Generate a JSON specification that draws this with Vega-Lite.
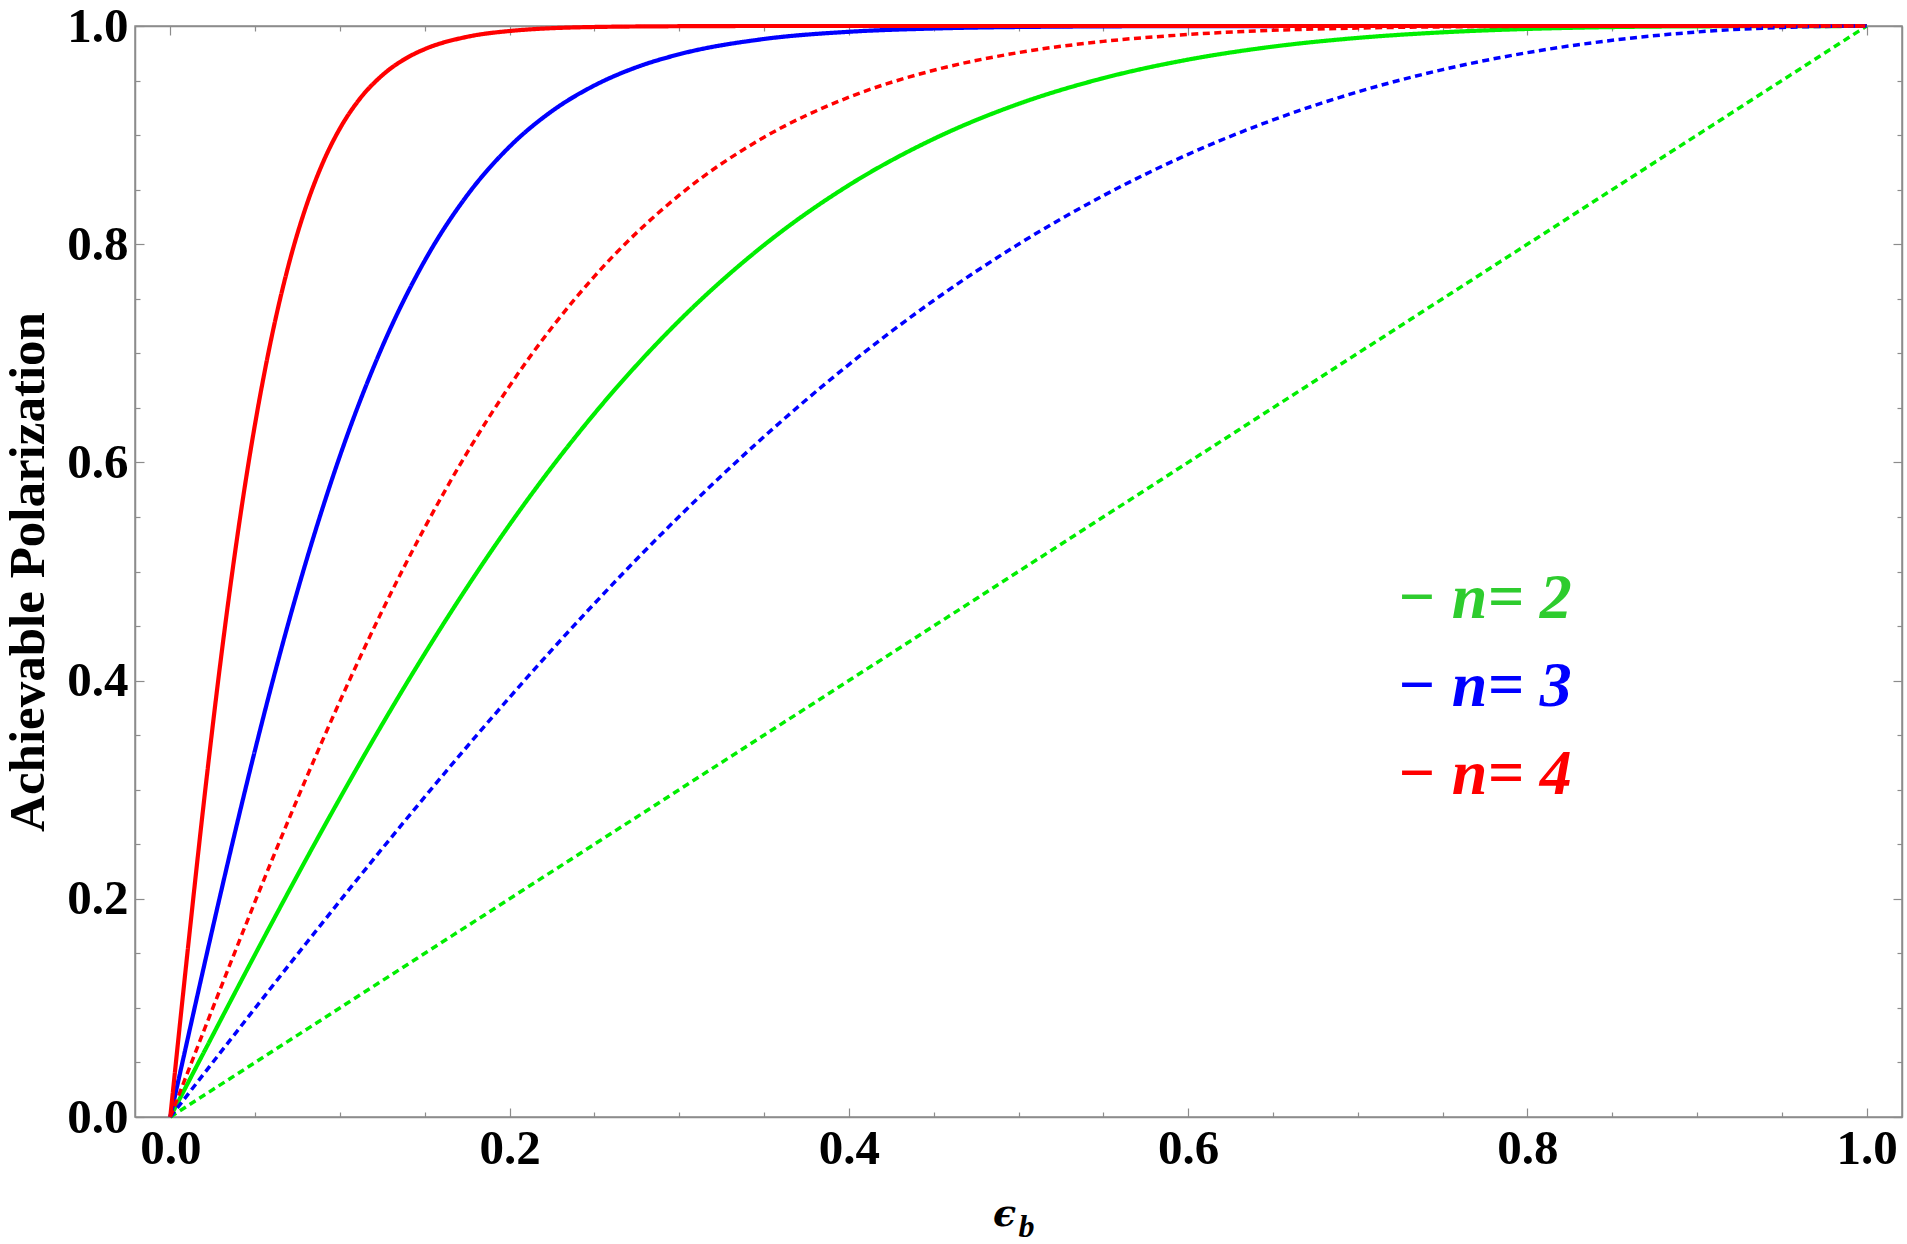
{
  "$schema": "https://vega.github.io/schema/vega-lite/v6.json",
  "width": 1767,
  "height": 1091,
  "autosize": {"type": "none"},
  "padding": {"left": 135, "top": 26, "right": 5, "bottom": 127},
  "background": "white",
  "config": {
    "view": {"stroke": "#8c8c8c", "strokeWidth": 1.5},
    "font": "Liberation Serif"
  },
  "data": {
    "values": [
      {"x": 0, "y": 0, "n": "2", "kind": "solid"},
      {"x": 0.02, "y": 0.0599, "n": "2", "kind": "solid"},
      {"x": 0.04, "y": 0.1195, "n": "2", "kind": "solid"},
      {"x": 0.06, "y": 0.1783, "n": "2", "kind": "solid"},
      {"x": 0.08, "y": 0.236, "n": "2", "kind": "solid"},
      {"x": 0.1, "y": 0.2922, "n": "2", "kind": "solid"},
      {"x": 0.125, "y": 0.3601, "n": "2", "kind": "solid"},
      {"x": 0.15, "y": 0.4247, "n": "2", "kind": "solid"},
      {"x": 0.175, "y": 0.4857, "n": "2", "kind": "solid"},
      {"x": 0.2, "y": 0.5429, "n": "2", "kind": "solid"},
      {"x": 0.25, "y": 0.6447, "n": "2", "kind": "solid"},
      {"x": 0.3, "y": 0.7299, "n": "2", "kind": "solid"},
      {"x": 0.35, "y": 0.7992, "n": "2", "kind": "solid"},
      {"x": 0.4, "y": 0.8541, "n": "2", "kind": "solid"},
      {"x": 0.45, "y": 0.8965, "n": "2", "kind": "solid"},
      {"x": 0.5, "y": 0.9286, "n": "2", "kind": "solid"},
      {"x": 0.55, "y": 0.9522, "n": "2", "kind": "solid"},
      {"x": 0.6, "y": 0.9692, "n": "2", "kind": "solid"},
      {"x": 0.65, "y": 0.9811, "n": "2", "kind": "solid"},
      {"x": 0.7, "y": 0.9891, "n": "2", "kind": "solid"},
      {"x": 0.75, "y": 0.9942, "n": "2", "kind": "solid"},
      {"x": 0.8, "y": 0.9973, "n": "2", "kind": "solid"},
      {"x": 0.9, "y": 0.9997, "n": "2", "kind": "solid"},
      {"x": 1, "y": 1, "n": "2", "kind": "solid"},

      {"x": 0, "y": 0, "n": "3", "kind": "solid"},
      {"x": 0.01, "y": 0.0699, "n": "3", "kind": "solid"},
      {"x": 0.02, "y": 0.1391, "n": "3", "kind": "solid"},
      {"x": 0.03, "y": 0.207, "n": "3", "kind": "solid"},
      {"x": 0.04, "y": 0.273, "n": "3", "kind": "solid"},
      {"x": 0.05, "y": 0.3366, "n": "3", "kind": "solid"},
      {"x": 0.06, "y": 0.3974, "n": "3", "kind": "solid"},
      {"x": 0.07, "y": 0.4549, "n": "3", "kind": "solid"},
      {"x": 0.08, "y": 0.5089, "n": "3", "kind": "solid"},
      {"x": 0.09, "y": 0.5592, "n": "3", "kind": "solid"},
      {"x": 0.1, "y": 0.6059, "n": "3", "kind": "solid"},
      {"x": 0.125, "y": 0.7062, "n": "3", "kind": "solid"},
      {"x": 0.15, "y": 0.7849, "n": "3", "kind": "solid"},
      {"x": 0.175, "y": 0.8448, "n": "3", "kind": "solid"},
      {"x": 0.2, "y": 0.8894, "n": "3", "kind": "solid"},
      {"x": 0.225, "y": 0.922, "n": "3", "kind": "solid"},
      {"x": 0.25, "y": 0.9455, "n": "3", "kind": "solid"},
      {"x": 0.275, "y": 0.9623, "n": "3", "kind": "solid"},
      {"x": 0.3, "y": 0.9741, "n": "3", "kind": "solid"},
      {"x": 0.35, "y": 0.9881, "n": "3", "kind": "solid"},
      {"x": 0.4, "y": 0.9947, "n": "3", "kind": "solid"},
      {"x": 0.45, "y": 0.9977, "n": "3", "kind": "solid"},
      {"x": 0.5, "y": 0.9991, "n": "3", "kind": "solid"},
      {"x": 0.6, "y": 0.9999, "n": "3", "kind": "solid"},
      {"x": 0.7, "y": 1, "n": "3", "kind": "solid"},
      {"x": 1, "y": 1, "n": "3", "kind": "solid"},

      {"x": 0, "y": 0, "n": "4", "kind": "solid"},
      {"x": 0.01, "y": 0.1489, "n": "4", "kind": "solid"},
      {"x": 0.02, "y": 0.2913, "n": "4", "kind": "solid"},
      {"x": 0.03, "y": 0.422, "n": "4", "kind": "solid"},
      {"x": 0.04, "y": 0.5373, "n": "4", "kind": "solid"},
      {"x": 0.05, "y": 0.6355, "n": "4", "kind": "solid"},
      {"x": 0.06, "y": 0.7168, "n": "4", "kind": "solid"},
      {"x": 0.07, "y": 0.7825, "n": "4", "kind": "solid"},
      {"x": 0.08, "y": 0.8344, "n": "4", "kind": "solid"},
      {"x": 0.09, "y": 0.8749, "n": "4", "kind": "solid"},
      {"x": 0.1, "y": 0.9061, "n": "4", "kind": "solid"},
      {"x": 0.11, "y": 0.9298, "n": "4", "kind": "solid"},
      {"x": 0.125, "y": 0.9549, "n": "4", "kind": "solid"},
      {"x": 0.14, "y": 0.9713, "n": "4", "kind": "solid"},
      {"x": 0.15, "y": 0.9788, "n": "4", "kind": "solid"},
      {"x": 0.175, "y": 0.9901, "n": "4", "kind": "solid"},
      {"x": 0.2, "y": 0.9954, "n": "4", "kind": "solid"},
      {"x": 0.25, "y": 0.9991, "n": "4", "kind": "solid"},
      {"x": 0.3, "y": 0.9998, "n": "4", "kind": "solid"},
      {"x": 0.35, "y": 1, "n": "4", "kind": "solid"},
      {"x": 1, "y": 1, "n": "4", "kind": "solid"},

      {"x": 0, "y": 0, "n": "2", "kind": "dotted"},
      {"x": 0.25, "y": 0.25, "n": "2", "kind": "dotted"},
      {"x": 0.5, "y": 0.5, "n": "2", "kind": "dotted"},
      {"x": 0.75, "y": 0.75, "n": "2", "kind": "dotted"},
      {"x": 1, "y": 1, "n": "2", "kind": "dotted"},

      {"x": 0, "y": 0, "n": "3", "kind": "dotted"},
      {"x": 0.02, "y": 0.04, "n": "3", "kind": "dotted"},
      {"x": 0.04, "y": 0.0799, "n": "3", "kind": "dotted"},
      {"x": 0.06, "y": 0.1196, "n": "3", "kind": "dotted"},
      {"x": 0.08, "y": 0.159, "n": "3", "kind": "dotted"},
      {"x": 0.1, "y": 0.198, "n": "3", "kind": "dotted"},
      {"x": 0.125, "y": 0.2462, "n": "3", "kind": "dotted"},
      {"x": 0.15, "y": 0.2934, "n": "3", "kind": "dotted"},
      {"x": 0.175, "y": 0.3396, "n": "3", "kind": "dotted"},
      {"x": 0.2, "y": 0.3846, "n": "3", "kind": "dotted"},
      {"x": 0.25, "y": 0.4706, "n": "3", "kind": "dotted"},
      {"x": 0.3, "y": 0.5505, "n": "3", "kind": "dotted"},
      {"x": 0.35, "y": 0.6236, "n": "3", "kind": "dotted"},
      {"x": 0.4, "y": 0.6897, "n": "3", "kind": "dotted"},
      {"x": 0.45, "y": 0.7484, "n": "3", "kind": "dotted"},
      {"x": 0.5, "y": 0.8, "n": "3", "kind": "dotted"},
      {"x": 0.55, "y": 0.8445, "n": "3", "kind": "dotted"},
      {"x": 0.6, "y": 0.8824, "n": "3", "kind": "dotted"},
      {"x": 0.65, "y": 0.9139, "n": "3", "kind": "dotted"},
      {"x": 0.7, "y": 0.9396, "n": "3", "kind": "dotted"},
      {"x": 0.75, "y": 0.96, "n": "3", "kind": "dotted"},
      {"x": 0.8, "y": 0.9756, "n": "3", "kind": "dotted"},
      {"x": 0.85, "y": 0.9869, "n": "3", "kind": "dotted"},
      {"x": 0.9, "y": 0.9945, "n": "3", "kind": "dotted"},
      {"x": 0.95, "y": 0.9987, "n": "3", "kind": "dotted"},
      {"x": 1, "y": 1, "n": "3", "kind": "dotted"},

      {"x": 0, "y": 0, "n": "4", "kind": "dotted"},
      {"x": 0.02, "y": 0.0798, "n": "4", "kind": "dotted"},
      {"x": 0.04, "y": 0.1587, "n": "4", "kind": "dotted"},
      {"x": 0.06, "y": 0.2358, "n": "4", "kind": "dotted"},
      {"x": 0.08, "y": 0.3101, "n": "4", "kind": "dotted"},
      {"x": 0.1, "y": 0.3811, "n": "4", "kind": "dotted"},
      {"x": 0.125, "y": 0.4642, "n": "4", "kind": "dotted"},
      {"x": 0.15, "y": 0.5403, "n": "4", "kind": "dotted"},
      {"x": 0.175, "y": 0.609, "n": "4", "kind": "dotted"},
      {"x": 0.2, "y": 0.6701, "n": "4", "kind": "dotted"},
      {"x": 0.25, "y": 0.7705, "n": "4", "kind": "dotted"},
      {"x": 0.3, "y": 0.8449, "n": "4", "kind": "dotted"},
      {"x": 0.35, "y": 0.898, "n": "4", "kind": "dotted"},
      {"x": 0.4, "y": 0.9347, "n": "4", "kind": "dotted"},
      {"x": 0.45, "y": 0.9594, "n": "4", "kind": "dotted"},
      {"x": 0.5, "y": 0.9756, "n": "4", "kind": "dotted"},
      {"x": 0.55, "y": 0.9859, "n": "4", "kind": "dotted"},
      {"x": 0.6, "y": 0.9922, "n": "4", "kind": "dotted"},
      {"x": 0.7, "y": 0.9981, "n": "4", "kind": "dotted"},
      {"x": 0.8, "y": 0.9997, "n": "4", "kind": "dotted"},
      {"x": 0.9, "y": 1, "n": "4", "kind": "dotted"},
      {"x": 1, "y": 1, "n": "4", "kind": "dotted"}
    ]
  },
  "layer": [
    {
      "mark": {"type": "line", "interpolate": "monotone", "clip": false},
      "encoding": {
        "x": {
          "field": "x", "type": "quantitative",
          "scale": {"domain": [-0.0208, 1.0208], "nice": false, "zero": false},
          "axis": {
            "orient": "bottom", "values": [0, 0.2, 0.4, 0.6, 0.8, 1], "format": ".1f",
            "tickSize": -9, "tickColor": "#8c8c8c", "tickWidth": 1.2,
            "domain": true, "domainColor": "#8c8c8c", "domainWidth": 1.5, "grid": false,
            "labelFont": "Liberation Serif", "labelFontSize": 49, "labelFontWeight": "bold",
            "labelColor": "#000000", "labelPadding": 16.5, "labelFlush": false, "labelOverlap": false, "labelBound": false,
            "title": "ϵ", "titleFont": "DejaVu Serif", "titleFontSize": 38, "titleFontWeight": "bold",
            "titleFontStyle": "italic", "titleColor": "#000000", "titleX": 869, "titleY": 108,
            "titleBaseline": "alphabetic", "titleAlign": "center"
          }
        },
        "y": {
          "field": "y", "type": "quantitative",
          "scale": {"domain": [0, 1], "nice": false, "zero": false},
          "axis": {
            "orient": "left", "values": [0, 0.2, 0.4, 0.6, 0.8, 1], "format": ".1f",
            "tickSize": -9, "tickColor": "#8c8c8c", "tickWidth": 1.2,
            "domain": true, "domainColor": "#8c8c8c", "domainWidth": 1.5, "grid": false,
            "labelFont": "Liberation Serif", "labelFontSize": 49, "labelFontWeight": "bold",
            "labelColor": "#000000", "labelPadding": 16, "labelFlush": false, "labelOverlap": false, "labelBound": false,
            "title": "Achievable Polarization", "titleFont": "Liberation Serif", "titleFontSize": 51,
            "titleFontWeight": "bold", "titleColor": "#000000", "titleAngle": -90,
            "titleX": -107, "titleY": 545.5, "titleBaseline": "middle", "titleAlign": "center"
          }
        },
        "color": {
          "field": "n", "type": "nominal",
          "scale": {"domain": ["2", "3", "4"], "range": ["#00ee00", "#0000ff", "#ff0000"]},
          "legend": {
            "orient": "none", "legendX": 1198, "legendY": 541, "title": null, "direction": "vertical",
            "padding": 0, "symbolType": "stroke", "symbolOpacity": 0, "symbolSize": 0, "symbolStrokeWidth": 0,
            "labelOffset": 0, "labelFont": "Liberation Serif", "labelFontSize": 64, "labelFontWeight": "bold",
            "labelFontStyle": "italic", "rowPadding": 24, "labelLimit": 400,
            "labelExpr": "'\u2212 n= ' + datum.label",
            "encode": {
              "labels": {
                "update": {
                  "fill": {"signal": "datum.value === '2' ? '#2ecc2e' : datum.value === '3' ? '#0000ff' : '#ff0000'"}
                }
              }
            }
          }
        },
        "strokeDash": {
          "field": "kind", "type": "nominal",
          "scale": {"domain": ["solid", "dotted"], "range": [[1, 0], [7, 4.5]]},
          "legend": null
        },
        "strokeWidth": {
          "field": "kind", "type": "nominal",
          "scale": {"domain": ["solid", "dotted"], "range": [4.2, 3.5]},
          "legend": null
        }
      }
    },
    {
      "transform": [{"filter": "datum.x == 0"}],
      "mark": {"type": "point", "opacity": 0},
      "encoding": {
        "x": {
          "field": "x", "type": "quantitative",
          "axis": {
            "orient": "bottom",
            "values": [0.05, 0.1, 0.15, 0.25, 0.3, 0.35, 0.45, 0.5, 0.55, 0.65, 0.7, 0.75, 0.85, 0.9, 0.95],
            "tickSize": -5, "tickColor": "#8c8c8c", "tickWidth": 1.2, "labels": false, "domain": false, "grid": false,
            "title": "b", "titleFont": "Liberation Serif", "titleFontSize": 32, "titleFontWeight": "bold",
            "titleFontStyle": "italic", "titleColor": "#000000", "titleX": 891, "titleY": 119,
            "titleBaseline": "alphabetic", "titleAlign": "center"
          }
        },
        "y": {
          "field": "y", "type": "quantitative",
          "axis": {
            "orient": "left",
            "values": [0.05, 0.1, 0.15, 0.25, 0.3, 0.35, 0.45, 0.5, 0.55, 0.65, 0.7, 0.75, 0.85, 0.9, 0.95],
            "tickSize": -5, "tickColor": "#8c8c8c", "tickWidth": 1.2, "labels": false, "domain": false, "grid": false,
            "title": null
          }
        }
      }
    },
    {
      "transform": [{"filter": "datum.x == 0"}],
      "mark": {"type": "point", "opacity": 0},
      "encoding": {
        "x": {
          "field": "x", "type": "quantitative",
          "axis": {
            "orient": "top", "values": [0, 0.2, 0.4, 0.6, 0.8, 1],
            "tickSize": -9, "tickColor": "#8c8c8c", "tickWidth": 1.2, "labels": false,
            "domain": true, "domainColor": "#8c8c8c", "domainWidth": 1.5, "grid": false, "title": null
          }
        },
        "y": {
          "field": "y", "type": "quantitative",
          "axis": {
            "orient": "right", "values": [0, 0.2, 0.4, 0.6, 0.8, 1],
            "tickSize": -9, "tickColor": "#8c8c8c", "tickWidth": 1.2, "labels": false,
            "domain": true, "domainColor": "#8c8c8c", "domainWidth": 1.5, "grid": false, "title": null
          }
        }
      }
    },
    {
      "transform": [{"filter": "datum.x == 0"}],
      "mark": {"type": "point", "opacity": 0},
      "encoding": {
        "x": {
          "field": "x", "type": "quantitative",
          "axis": {
            "orient": "top",
            "values": [0.05, 0.1, 0.15, 0.25, 0.3, 0.35, 0.45, 0.5, 0.55, 0.65, 0.7, 0.75, 0.85, 0.9, 0.95],
            "tickSize": -5, "tickColor": "#8c8c8c", "tickWidth": 1.2, "labels": false, "domain": false, "grid": false,
            "title": null
          }
        },
        "y": {
          "field": "y", "type": "quantitative",
          "axis": {
            "orient": "right",
            "values": [0.05, 0.1, 0.15, 0.25, 0.3, 0.35, 0.45, 0.5, 0.55, 0.65, 0.7, 0.75, 0.85, 0.9, 0.95],
            "tickSize": -5, "tickColor": "#8c8c8c", "tickWidth": 1.2, "labels": false, "domain": false, "grid": false,
            "title": null
          }
        }
      }
    }
  ],
  "resolve": {"axis": {"x": "independent", "y": "independent"}}
}
